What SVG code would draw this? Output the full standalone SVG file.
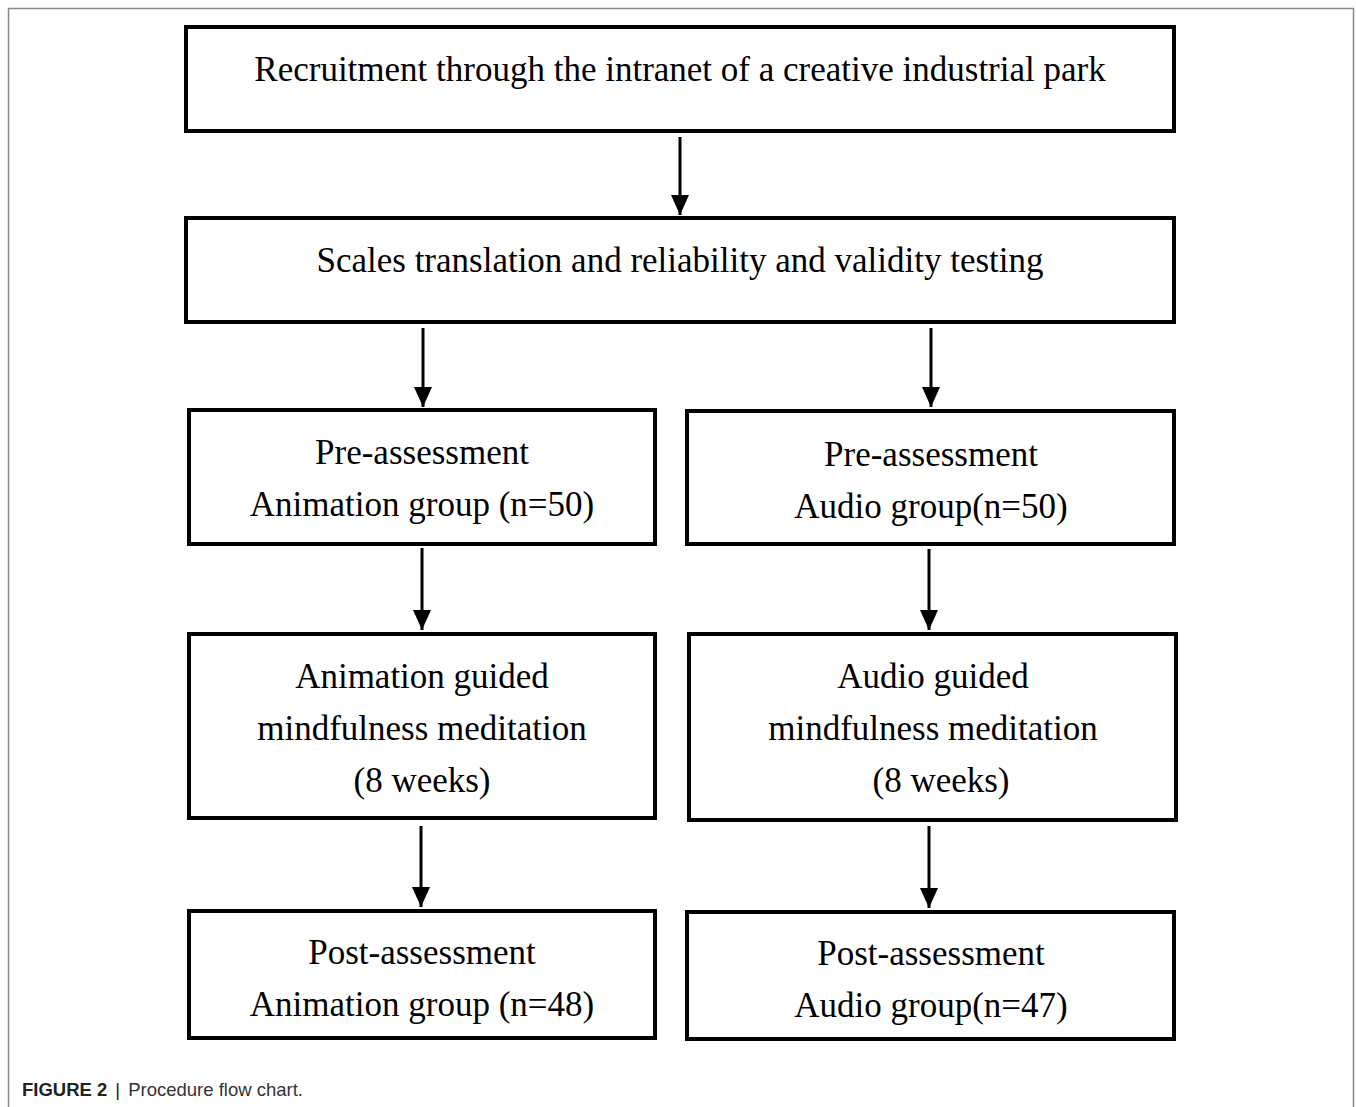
<svg xmlns="http://www.w3.org/2000/svg" width="1356" height="1107" viewBox="0 0 1356 1107">
<style>
.box{fill:#fff;stroke:#000;stroke-width:4}
.t{font-family:"Liberation Serif","Times New Roman",serif;font-size:35px;fill:#000;text-anchor:middle}
.c{stroke:#000;stroke-width:3;fill:none;marker-end:url(#ah)}
.cap{font-family:"Liberation Sans",Arial,sans-serif;font-size:18.5px;fill:#333}
</style>
<defs>
<marker id="ah" markerUnits="userSpaceOnUse" markerWidth="20" markerHeight="18" refX="20" refY="9" orient="auto" viewBox="0 0 20 18">
<path d="M0,0 L20,9 L0,18 Z" fill="#000"/>
</marker>
</defs>
<rect width="1356" height="1107" fill="#fff"/>
<path d="M8.5,1107 V8.5 H1353.5 V1107" fill="none" stroke="#888" stroke-width="1.5"/>
<g id="connectors">
<line class="c" x1="680" y1="137" x2="680" y2="215"/>
<line class="c" x1="423" y1="328" x2="423" y2="407"/>
<line class="c" x1="931" y1="328" x2="931" y2="407"/>
<line class="c" x1="422" y1="548" x2="422" y2="630"/>
<line class="c" x1="929" y1="549" x2="929" y2="630"/>
<line class="c" x1="421" y1="826" x2="421" y2="907"/>
<line class="c" x1="929" y1="826" x2="929" y2="908"/>
</g>
<g id="recruit">
<rect class="box" x="186" y="27" width="988" height="104"/>
<text class="t" x="680" y="81">Recruitment through the intranet of a creative industrial park</text>
</g>
<g id="scales">
<rect class="box" x="186" y="218" width="988" height="104"/>
<text class="t" x="680" y="272">Scales translation and reliability and validity testing</text>
</g>
<g id="pre-anim">
<rect class="box" x="189" y="410" width="466" height="134"/>
<text class="t" x="422" y="464">Pre-assessment</text>
<text class="t" x="422" y="516">Animation group (n=50)</text>
</g>
<g id="pre-audio">
<rect class="box" x="687" y="411" width="487" height="133"/>
<text class="t" x="931" y="466">Pre-assessment</text>
<text class="t" x="931" y="518">Audio group(n=50)</text>
</g>
<g id="med-anim">
<rect class="box" x="189" y="634" width="466" height="184"/>
<text class="t" x="422" y="688">Animation guided</text>
<text class="t" x="422" y="740">mindfulness meditation</text>
<text class="t" x="422" y="792">(8 weeks)</text>
</g>
<g id="med-audio">
<rect class="box" x="689" y="634" width="487" height="186"/>
<text class="t" x="933" y="688">Audio guided</text>
<text class="t" x="933" y="740">mindfulness meditation</text>
<text class="t" x="941" y="792">(8 weeks)</text>
</g>
<g id="post-anim">
<rect class="box" x="189" y="911" width="466" height="127"/>
<text class="t" x="422" y="964">Post-assessment</text>
<text class="t" x="422" y="1016">Animation group (n=48)</text>
</g>
<g id="post-audio">
<rect class="box" x="687" y="912" width="487" height="127"/>
<text class="t" x="931" y="965">Post-assessment</text>
<text class="t" x="931" y="1017">Audio group(n=47)</text>
</g>
<text class="cap" x="22" y="1096"><tspan font-weight="bold" fill="#222">FIGURE 2</tspan><tspan dx="8" fill="#222">|</tspan><tspan dx="8">Procedure flow chart.</tspan></text>
</svg>
